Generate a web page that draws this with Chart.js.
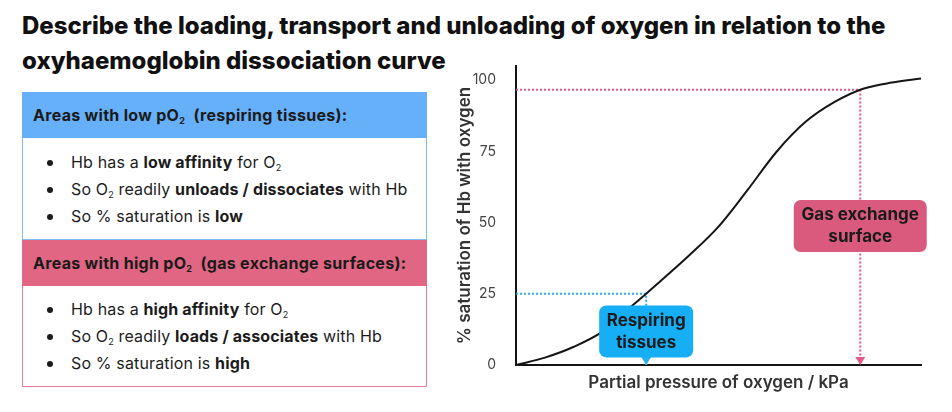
<!DOCTYPE html>
<html>
<head>
<meta charset="utf-8">
<script src="https://cdn.jsdelivr.net/npm/chart.js@4.4.1/dist/chart.umd.min.js"></script>
<style>
    body{margin:0;width:952px;height:412px;background:#fff;font-family:Inter,"Noto Sans",sans-serif;color:#1c1c1c;position:relative;overflow:hidden}
    h1{position:absolute;left:22px;top:8px;margin:0;font-size:24px;line-height:35px;font-weight:800;color:#111;white-space:nowrap}
    .box{position:absolute;left:22px;width:405px;box-sizing:border-box}
    .head{height:46px;line-height:46px;padding-left:11px;font-weight:700;font-size:16px;letter-spacing:0.3px;color:#1a1a1a}
    .body{box-sizing:border-box;border:1.5px solid;border-top:none;background:#fff}
    .body div{position:relative;padding-left:48px;font-size:16px;letter-spacing:0.15px;line-height:27px;white-space:nowrap}
    .body div::before{content:"";position:absolute;left:24px;top:11px;width:6px;height:6px;border-radius:50%;background:#1c1c1c}
    sub{font-size:9px;vertical-align:-3px;line-height:0}
    b{font-weight:700}
    #blue .head{background:#66b0fa}
    #blue .body{border-color:#7ebcf8;height:102px;padding-top:11px}
    #pink .head{background:#e06683}
    #pink .body{border-color:#e57e97;height:101px;padding-top:10px}
    #chartBox{position:absolute;left:450px;top:60px;width:502px;height:352px}
</style>
</head>
<body>
<h1>Describe the loading, transport and unloading of oxygen in relation to the<br>oxyhaemoglobin dissociation curve</h1>

<div class="box" id="blue" style="top:92px">
    <div class="head">Areas with low pO<sub>2</sub>&nbsp; (respiring tissues):</div>
    <div class="body">
        <div>Hb has a <b>low affinity</b> for O<sub>2</sub></div>
        <div>So O<sub>2</sub> readily <b>unloads / dissociates</b> with Hb</div>
        <div>So % saturation is <b>low</b></div>
    </div>
</div>
<div class="box" id="pink" style="top:240px">
    <div class="head">Areas with high pO<sub>2</sub>&nbsp; (gas exchange surfaces):</div>
    <div class="body">
        <div>Hb has a <b>high affinity</b> for O<sub>2</sub></div>
        <div>So O<sub>2</sub> readily <b>loads / associates</b> with Hb</div>
        <div>So % saturation is <b>high</b></div>
    </div>
</div>

<div id="chartBox"><canvas id="curveChart" width="502" height="352"></canvas></div>

<script>
    // values
    const pO2 = [0, 1, 2, 3, 4, 4.5, 5, 6, 7, 8, 9, 10, 11, 12, 13, 14];
    const saturation = [0, 2.6, 6.4, 11.8, 20.7, 25, 29.5, 38.6, 48.6, 61.4, 74.8, 85.3, 92.3, 97, 99.2, 100.6];
    const yTicks = [0, 25, 50, 75, 100];

    const markerNames = [['Respiring', 'tissues'], ['Gas exchange', 'surface']];
    const markerX = [4.5, 11.9];
    const markerY = [25, 96.7];
    const markerLabelY = [11.8, 48.8];
    const markerColors = ['#2aaeee', '#e4588a'];
    const markerFills = ['#16aef4', '#d95a7d'];

    const guideSets = markerX.map((mx, i) => ({
        data: [{x: 0, y: markerY[i]}, {x: mx, y: markerY[i]}, {x: mx, y: 0}],
        borderColor: markerColors[i],
        borderWidth: 2,
        borderDash: [2, 2],
        pointRadius: 0,
        showLine: true
    }));

    const markerPlugin = {
        id: 'markers',
        afterDatasetsDraw(chart) {
            const {ctx, scales: {x, y}} = chart;
            markerX.forEach((mx, i) => {
                const px = x.getPixelForValue(mx);
                const base = y.getPixelForValue(0);
                ctx.save();
                ctx.fillStyle = markerColors[i];
                ctx.beginPath();
                ctx.moveTo(px, base);
                ctx.lineTo(px - 5, base - 8);
                ctx.lineTo(px + 5, base - 8);
                ctx.closePath();
                ctx.fill();

                const w = i == 0 ? 94 : 133, h = 52;
                const cy = y.getPixelForValue(markerLabelY[i]);
                ctx.fillStyle = markerFills[i];
                ctx.beginPath();
                ctx.roundRect(px - w / 2, cy - h / 2, w, h, 7);
                ctx.fill();
                ctx.fillStyle = '#1a1a1a';
                ctx.font = '700 17px Inter, sans-serif';
                ctx.textAlign = 'center';
                ctx.textBaseline = 'middle';
                ctx.fillText(markerNames[i][0], px, cy - 11);
                ctx.fillText(markerNames[i][1], px, cy + 11);
                ctx.restore();
            });
        }
    };

    new Chart(document.getElementById('curveChart').getContext('2d'), {
        type: 'scatter',
        data: {
            datasets: [{
                data: pO2.map((p, i) => ({x: p, y: saturation[i]})),
                borderColor: '#151515',
                borderWidth: 2,
                pointRadius: 0,
                showLine: true,
                cubicInterpolationMode: 'monotone'
            }, ...guideSets]
        },
        options: {
            responsive: false,
            animation: false,
            layout: {padding: {left: 0, top: 6, right: 31, bottom: 0}},
            plugins: {legend: {display: false}, tooltip: {enabled: false}},
            scales: {
                x: {
                    type: 'linear', min: 0, max: 14,
                    grid: {display: false},
                    border: {display: true, color: '#151515', width: 2},
                    ticks: {display: false},
                    title: {display: true, text: 'Partial pressure of oxygen / kPa', color: '#333',
                        font: {family: 'Inter', size: 17, weight: '600'}, padding: {top: 0, bottom: 19}},
                    afterFit: s => { s.height = 47; s.paddingLeft = 0; s.paddingRight = 0 }
                },
                y: {
                    min: 0, max: 105,
                    grid: {display: false},
                    border: {display: true, color: '#151515', width: 2},
                    afterBuildTicks: s => { s.ticks = yTicks.map(v => ({value: v})) },
                    ticks: {color: '#444', padding: 12, font: {family: 'Inter', size: 14}},
                    title: {display: true, text: '% saturation of Hb with oxygen', color: '#333',
                        font: {family: 'Inter', size: 17, weight: '600'}, padding: {top: 5, bottom: 0}},
                    afterFit: s => { s.width = 66; s.paddingTop = 0; s.paddingBottom = 0 }
                }
            }
        },
        plugins: [markerPlugin]
    });
</script>
</body>
</html>
